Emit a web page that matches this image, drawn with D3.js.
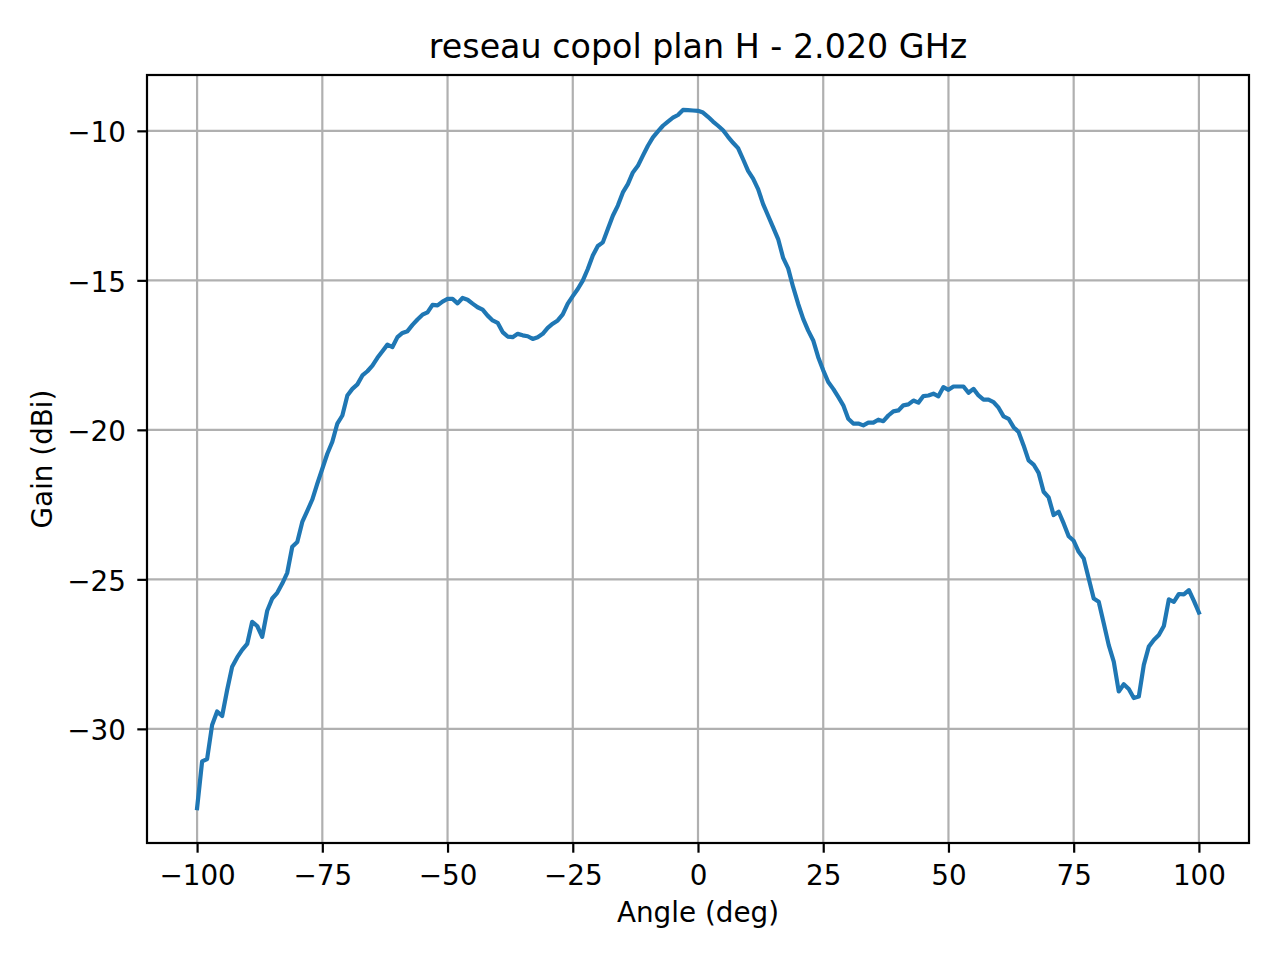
<!DOCTYPE html>
<html>
<head>
<meta charset="utf-8">
<script src="https://cdn.jsdelivr.net/npm/d3@7"></script>
<style>
  body { margin: 0; background: #fff; }
  text { font-family: "DejaVu Sans", sans-serif; fill: #000; }
</style>
</head>
<body>
<div id="chart"></div>
<script>
// measured gain, one sample per degree
var angles = [
  -100,-99,-98,-97,-96,-95,-94,-93,-92,-91,-90,-89,-88,-87,-86,-85,-84,-83,-82,-81,
  -80,-79,-78,-77,-76,-75,-74,-73,-72,-71,-70,-69,-68,-67,-66,-65,-64,-63,-62,-61,
  -60,-59,-58,-57,-56,-55,-54,-53,-52,-51,-50,-49,-48,-47,-46,-45,-44,-43,-42,-41,
  -40,-39,-38,-37,-36,-35,-34,-33,-32,-31,-30,-29,-28,-27,-26,-25,-24,-23,-22,-21,
  -20,-19,-18,-17,-16,-15,-14,-13,-12,-11,-10,-9,-8,-7,-6,-5,-4,-3,-2,-1,
  0,1,2,3,4,5,6,7,8,9,10,11,12,13,14,15,16,17,18,19,
  20,21,22,23,24,25,26,27,28,29,30,31,32,33,34,35,36,37,38,39,
  40,41,42,43,44,45,46,47,48,49,50,51,52,53,54,55,56,57,58,59,
  60,61,62,63,64,65,66,67,68,69,70,71,72,73,74,75,76,77,78,79,
  80,81,82,83,84,85,86,87,88,89,90,91,92,93,94,95,96,97,98,99,100
];
var gain = [
  -32.65,-31.09,-31.01,-29.87,-29.42,-29.57,-28.70,-27.92,-27.61,-27.36,
  -27.16,-26.42,-26.56,-26.92,-26.05,-25.64,-25.45,-25.14,-24.78,-23.91,
  -23.75,-23.08,-22.71,-22.33,-21.80,-21.30,-20.80,-20.40,-19.79,-19.52,
  -18.85,-18.63,-18.48,-18.18,-18.04,-17.85,-17.59,-17.37,-17.15,-17.23,
  -16.90,-16.76,-16.70,-16.49,-16.31,-16.15,-16.07,-15.82,-15.84,-15.71,
  -15.62,-15.62,-15.77,-15.59,-15.65,-15.78,-15.90,-15.98,-16.18,-16.34,
  -16.42,-16.73,-16.88,-16.90,-16.79,-16.84,-16.87,-16.96,-16.90,-16.79,
  -16.59,-16.45,-16.34,-16.14,-15.78,-15.53,-15.29,-15.01,-14.62,-14.17,
  -13.85,-13.73,-13.28,-12.84,-12.50,-12.06,-11.78,-11.39,-11.17,-10.83,
  -10.50,-10.22,-10.02,-9.83,-9.69,-9.56,-9.47,-9.30,-9.31,-9.32,
  -9.33,-9.39,-9.53,-9.69,-9.83,-9.98,-10.20,-10.40,-10.58,-10.95,
  -11.34,-11.60,-11.95,-12.45,-12.84,-13.23,-13.62,-14.25,-14.60,-15.23,
  -15.79,-16.29,-16.68,-17.01,-17.57,-18.01,-18.40,-18.63,-18.90,-19.18,
  -19.63,-19.79,-19.79,-19.85,-19.76,-19.76,-19.66,-19.71,-19.52,-19.38,
  -19.35,-19.18,-19.15,-19.02,-19.09,-18.87,-18.85,-18.79,-18.88,-18.57,
  -18.66,-18.55,-18.55,-18.55,-18.76,-18.63,-18.85,-18.99,-18.99,-19.07,
  -19.26,-19.55,-19.63,-19.91,-20.07,-20.52,-21.02,-21.16,-21.44,-22.07,
  -22.26,-22.85,-22.74,-23.13,-23.56,-23.71,-24.08,-24.30,-24.97,-25.64,
  -25.75,-26.47,-27.20,-27.75,-28.75,-28.51,-28.67,-28.97,-28.92,-27.86,
  -27.25,-27.03,-26.86,-26.56,-25.67,-25.75,-25.49,-25.50,-25.36,-25.72,
  -26.11
];
var xTicks = [-100, -75, -50, -25, 0, 25, 50, 75, 100];
var yTicks = [-30, -25, -20, -15, -10];

var svgWidth = 1280;
var svgHeight = 960;
var margin = {top: 75, left: 147, right: 31, bottom: 117};
var width = svgWidth - margin.left - margin.right;
var height = svgHeight - margin.top - margin.bottom;

var data = angles.map(function(a, i) { return {angle: a, gain: gain[i]}; });

var svg = d3.select("#chart").append("svg").attr("width", svgWidth).attr("height", svgHeight);
svg.append("rect").attr("width", svgWidth).attr("height", svgHeight).attr("fill", "#fff");
var g = svg.append("g").attr("transform", `translate(${margin.left},${margin.top})`);

// matplotlib-style 5% padding
var xMin = d3.min(angles), xMax = d3.max(angles);
var yMin = d3.min(gain), yMax = d3.max(gain);
var xPad = (xMax - xMin) * 0.05, yPad = (yMax - yMin) * 0.05;
var xScale = d3.scaleLinear().domain([xMin - xPad, xMax + xPad]).range([0, width]);
var yScale = d3.scaleLinear().domain([yMin - yPad, yMax + yPad]).range([height, 0]);

var fmt = function(d) { return d < 0 ? "\u2212" + Math.abs(d) : String(d); };

// grid
g.append("g").selectAll("line").data(xTicks).enter().append("line")
  .attr("x1", d => xScale(d)).attr("x2", d => xScale(d))
  .attr("y1", 0).attr("y2", height)
  .attr("stroke", "#b0b0b0").attr("stroke-width", 2.2);
g.append("g").selectAll("line").data(yTicks).enter().append("line")
  .attr("x1", 0).attr("x2", width)
  .attr("y1", d => yScale(d)).attr("y2", d => yScale(d))
  .attr("stroke", "#b0b0b0").attr("stroke-width", 2.2);

// curve
var line = d3.line().x(d => xScale(d.angle)).y(d => yScale(d.gain));
g.append("path").datum(data).attr("d", line)
  .attr("fill", "none").attr("stroke", "#1f77b4").attr("stroke-width", 4.2)
  .attr("stroke-linejoin", "round").attr("stroke-linecap", "square");

// axes
var bottomAxis = d3.axisBottom(xScale).tickValues(xTicks).tickFormat(fmt).tickSize(9.7).tickPadding(9);
var leftAxis = d3.axisLeft(yScale).tickValues(yTicks).tickFormat(fmt).tickSize(9.7).tickPadding(9);

var xa = g.append("g").attr("transform", `translate(0,${height})`).call(bottomAxis);
var ya = g.append("g").call(leftAxis);
[xa, ya].forEach(function(a) {
  a.select(".domain").remove();
  a.selectAll(".tick line").attr("stroke", "#000").attr("stroke-width", 2.2);
  a.selectAll(".tick text").attr("font-family", "DejaVu Sans").attr("font-size", "27.8px").attr("fill", "#000");
});
xa.selectAll(".tick text").attr("dy", null).attr("y", 42);
ya.selectAll(".tick text").attr("dy", null).attr("y", 11).attr("x", -21);

// frame
g.append("rect").attr("width", width).attr("height", height)
  .attr("fill", "none").attr("stroke", "#000").attr("stroke-width", 2.2);

// labels
svg.append("text").attr("x", margin.left + width / 2).attr("y", 58)
  .attr("text-anchor", "middle").attr("font-size", "33.3px").text("reseau copol plan H - 2.020 GHz");
svg.append("text").attr("x", margin.left + width / 2).attr("y", 922)
  .attr("text-anchor", "middle").attr("font-size", "27.8px").text("Angle (deg)");
svg.append("text").attr("transform", `translate(52,${margin.top + height / 2}) rotate(-90)`)
  .attr("text-anchor", "middle").attr("font-size", "27.8px").text("Gain (dBi)");
</script>
</body>
</html>
